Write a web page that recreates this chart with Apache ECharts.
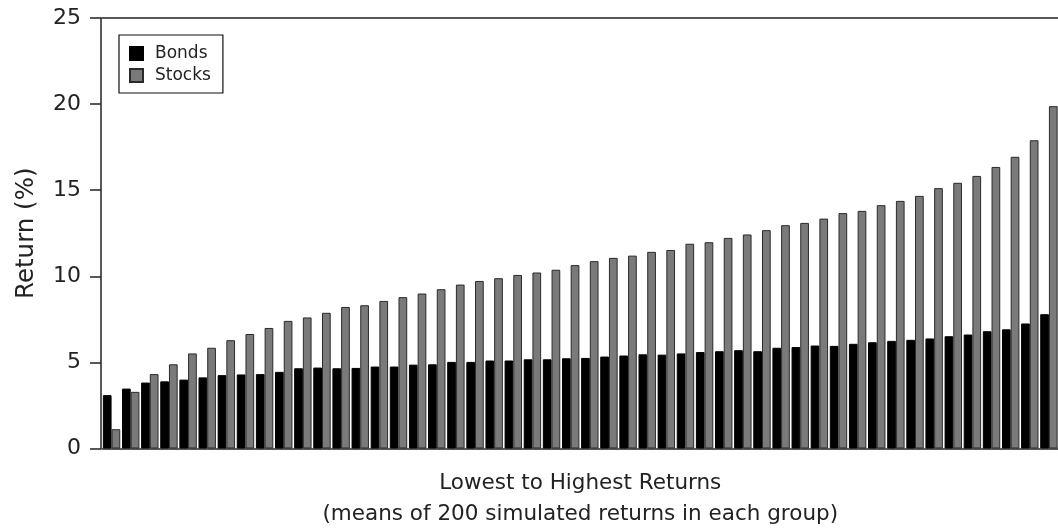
<!DOCTYPE html>
<html>
<head>
<meta charset="utf-8">
<script src="https://cdn.jsdelivr.net/npm/echarts@6/dist/echarts.min.js"></script>
<style>
html,body{margin:0;padding:0;background:#fff;}
#chart{width:1058px;height:531px;}
</style>
</head>
<body>
<div id="chart"></div>
<script>
var categories = [];
for (var i = 1; i <= 50; i++) categories.push(String(i));

var bonds = [3.10,3.48,3.83,3.90,4.00,4.13,4.26,4.30,4.32,4.45,
             4.66,4.70,4.66,4.68,4.76,4.76,4.87,4.89,5.03,5.03,
             5.11,5.11,5.18,5.18,5.24,5.26,5.34,5.40,5.47,5.45,
             5.52,5.60,5.65,5.71,5.65,5.85,5.89,5.98,5.96,6.08,
             6.17,6.25,6.31,6.39,6.52,6.62,6.81,6.92,7.26,7.80];

var stocks = [1.12,3.29,4.32,4.89,5.52,5.85,6.29,6.65,7.00,7.41,
              7.61,7.88,8.22,8.32,8.57,8.79,9.00,9.25,9.52,9.73,
              9.89,10.08,10.22,10.38,10.65,10.88,11.07,11.20,11.42,11.53,
              11.89,11.98,12.23,12.43,12.68,12.97,13.10,13.35,13.67,13.80,
              14.13,14.38,14.67,15.12,15.43,15.83,16.35,16.94,17.90,19.88];

var yTicks = [0, 5, 10, 15, 20, 25];

var FONT = 'DejaVu Sans';
var chart = echarts.init(document.getElementById('chart'), null, {renderer: 'canvas'});
chart.setOption({
  animation: false,
  backgroundColor: '#fff',
  grid: {
    left: 102, right: -0.5, top: 18, bottom: 82.5,
    show: false,
    containLabel: false,
    outerBoundsMode: 'none'
  },
  legend: {
    left: 119, top: 35,
    orient: 'vertical',
    padding: [10, 12, 9, 10],
    borderColor: '#111', borderWidth: 1.2,
    icon: 'rect',
    itemWidth: 13, itemHeight: 13, itemGap: 5,
    textStyle: {fontFamily: FONT, fontSize: 17, color: '#222', padding: [0, 0, 0, 7]},
    data: ['Bonds', 'Stocks']
  },
  xAxis: [{
    type: 'category',
    data: categories,
    boundaryGap: true,
    axisLine: {show: true, lineStyle: {color: '#222', width: 1.5}},
    axisTick: {show: false},
    axisLabel: {show: false},
    splitLine: {show: false},
    name: 'Lowest to Highest Returns\n(means of 200 simulated returns in each group)',
    nameLocation: 'middle',
    nameGap: 19,
    nameTextStyle: {fontFamily: FONT, fontSize: 21.5, color: '#222', lineHeight: 31}
  }, {
    type: 'category',
    data: categories,
    position: 'top',
    axisLine: {show: true, lineStyle: {color: '#222', width: 1.5}},
    axisTick: {show: false},
    axisLabel: {show: false},
    splitLine: {show: false}
  }],
  yAxis: {
    type: 'value',
    min: yTicks[0], max: yTicks[yTicks.length - 1], interval: 5,
    offset: 1,
    axisLine: {show: true, lineStyle: {color: '#222', width: 1.5}},
    axisTick: {show: true, length: 11, lineStyle: {color: '#222', width: 1.5}},
    axisLabel: {fontFamily: FONT, fontSize: 22, color: '#222', margin: 20},
    splitLine: {show: false},
    name: 'Return (%)',
    nameLocation: 'middle',
    nameRotate: 90,
    nameGap: 62,
    nameTextStyle: {fontFamily: FONT, fontSize: 24.5, color: '#222'}
  },
  series: [
    {
      name: 'Bonds', type: 'bar', data: bonds,
      barGap: '0%', barCategoryGap: '9%',
      itemStyle: {color: '#000', borderColor: '#000', borderWidth: 1}
    },
    {
      name: 'Stocks', type: 'bar', data: stocks,
      barGap: '0%', barCategoryGap: '9%',
      itemStyle: {color: '#7a7a7a', borderColor: '#2a2a2a', borderWidth: 1}
    }
  ]
});
</script>
</body>
</html>
